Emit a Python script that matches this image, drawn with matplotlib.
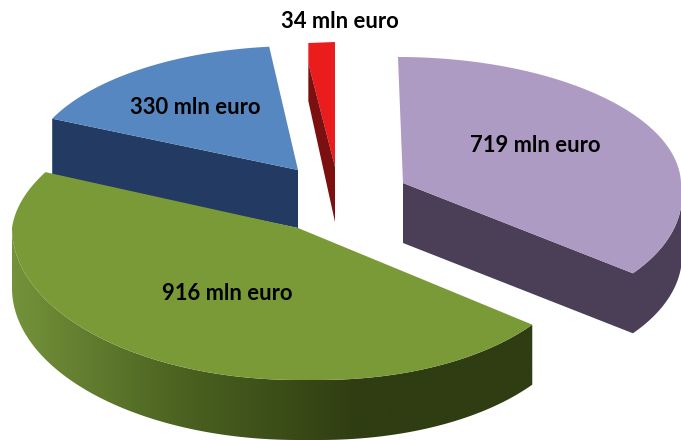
import numpy as np
import matplotlib
matplotlib.use("Agg")
import matplotlib.pyplot as plt
from matplotlib.colors import LinearSegmentedColormap
from matplotlib.patches import Polygon

labels = ["719 mln euro", "916 mln euro", "330 mln euro", "34 mln euro"]
values = [719, 916, 330, 34]

# per slice look: apex, radii (x, up, down), lean of the ellipse (up, lower right), wall depth
centers = [(403, 183), (298, 228), (298, 170), (335, 222)]
radii = [(278, 126, 142), (286, 135, 152), (270, 124, 125), (250, 180, 180)]
leans = [(0.04, 0.17), (-0.14, 0.14), (0, 0), (0, 0)]
depths = [60, 60, 58, 0]
top_colors = ["#ad9bc3", "#7a9a38", "#5687c1", "#ea1c1c"]
wall_colors = ["#4a3f57", "#2f3d12", "#233a62", "#7c0f10"]
green_rim = ["#74923a", "#4a6120", "#2f3d12", "#2f3d12"]
label_pos = [(535, 146), (227, 294), (195, 107), (340, 21)]

plt.rcParams["font.family"] = ["Lato", "DejaVu Sans"]


def arc(i, t0, t1, n=240):
    cx, cy = centers[i]
    r = radii[i]
    t = np.radians(np.linspace(t0, t1, n))
    up = np.sin(t) >= 0
    dy = -np.where(up, r[1], r[2]) * np.sin(t)
    lean = np.where(up, leans[i][0], np.where(np.cos(t) > 0, leans[i][1], 0))
    return cx + r[0] * np.cos(t) + lean * dy, cy + dy


fig = plt.figure(figsize=(6.81, 4.40), dpi=100)
ax = fig.add_axes([0, 0, 1, 1])

edges = 90 - np.concatenate([[0], np.cumsum(values)]) / sum(values) * 360

# back to front, so the green slice covers the foot of the blue wall
for i in [3, 2, 0, 1]:
    cx, cy = centers[i]
    d = depths[i]
    xs, ys = arc(i, edges[i], edges[i + 1])
    pts = np.column_stack([np.r_[cx, xs], np.r_[cy, ys]])

    if i == 0:
        # cut wall towards the viewer and the rim as one shape
        lower = ys >= cy
        wall = [(cx, cy)] + list(zip(xs[lower][::-1], ys[lower][::-1]))
        wall += list(zip(xs[lower], ys[lower] + d)) + [(cx, cy + d)]
        ax.add_patch(Polygon(wall, fc=wall_colors[i], ec="none"))
    elif i == 1:
        # rim shades from olive on the left to almost black on the right
        keep = ys >= cy
        rim = list(zip(xs[keep], ys[keep])) + list(zip(xs[keep][::-1], ys[keep][::-1] + d))
        patch = Polygon(rim, fc="none", ec="none")
        ax.add_patch(patch)
        cmap = LinearSegmentedColormap.from_list("rim", green_rim)
        im = ax.imshow(np.linspace(0, 1, 256)[None, :], cmap=cmap, aspect="auto",
                       extent=[xs.min(), xs.max(), 440, 0], zorder=patch.get_zorder())
        im.set_clip_path(patch)
    elif i == 2:
        ax.add_patch(Polygon([(cx, cy), (xs[0], ys[0]), (xs[0], ys[0] + d), (cx, cy + d)],
                             fc=wall_colors[i], ec="none"))

    if i == 3:
        # the thin slice: bright top over a dark wall that runs down to the apex
        ax.add_patch(Polygon([(xs[-1], ys[-1]), (xs[0], ys[0]), (xs[0], ys[0] + 20), (cx, cy - 55)],
                             fc=top_colors[i], ec="none", zorder=2))
        ax.add_patch(Polygon([(xs[0], ys[0] + 20), (cx, cy - 55), (cx, cy), (xs[0], ys[0] + 58)],
                             fc=wall_colors[i], ec="none", zorder=2))
    else:
        ax.add_patch(Polygon(pts, fc=top_colors[i], ec="none", zorder=2))

for (x, y), name in zip(label_pos, labels):
    ax.text(x, y, name, ha="center", va="center", fontsize=15.8, fontweight="bold", color="black", zorder=5)

ax.set_xlim(0, 681)
ax.set_ylim(440, 0)
ax.axis("off")

fig.savefig("out.png", dpi=100)
